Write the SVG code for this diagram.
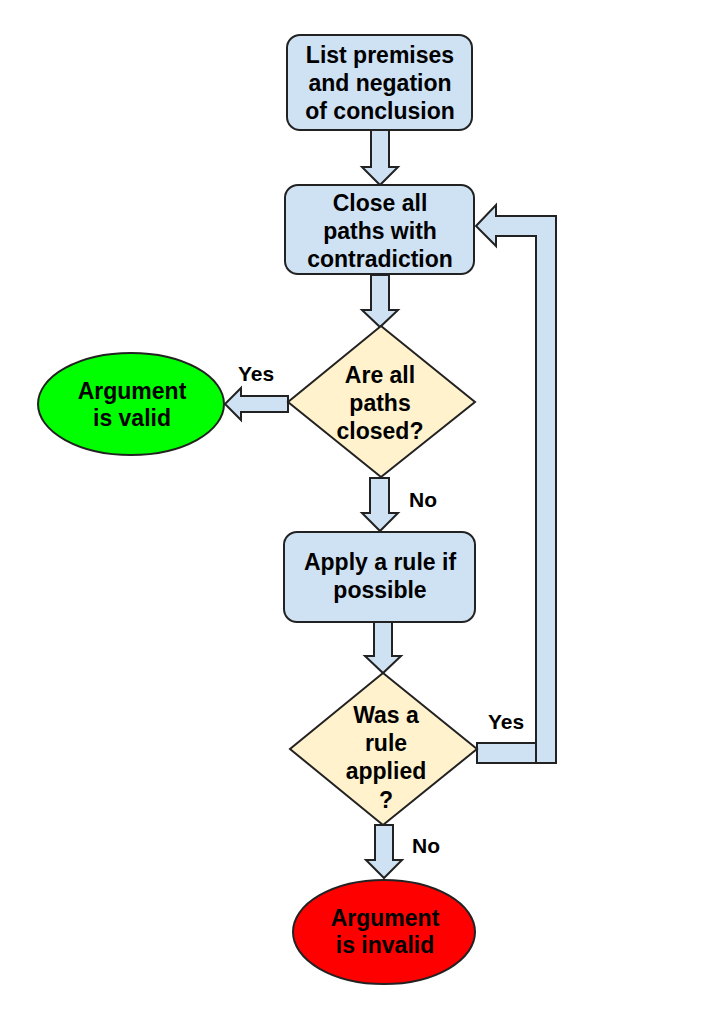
<svg xmlns="http://www.w3.org/2000/svg" width="716" height="1024" viewBox="0 0 716 1024">
<style>
.box{fill:#cfe2f3;stroke:#222;stroke-width:2}
.dia{fill:#fff2cc;stroke:#222;stroke-width:2}
.arr{fill:#cfe2f3;stroke:#222;stroke-width:2;stroke-linejoin:miter}
.t{font-family:"Liberation Sans",Arial,sans-serif;font-weight:bold;font-size:23px;fill:#000;text-anchor:middle}
.lbl{font-family:"Liberation Sans",Arial,sans-serif;font-weight:bold;font-size:21px;fill:#000;text-anchor:middle}
</style>
<rect width="716" height="1024" fill="#fff"/>
<g id="connectors">
<polygon class="arr" points="371,130 389,130 389,167 398,167 380,185 362,167 371,167"/>
<polygon class="arr" points="371,275 389,275 389,310 398,310 380,327 362,310 371,310"/>
<polygon class="arr" points="288,396 241,396 241,388 225,404 241,420 241,412 288,412"/>
<polygon class="arr" points="370,478 389,478 389,513 398,513 380,531 362,513 370,513"/>
<polygon class="arr" points="374,622 392,622 392,656 401,656 383,673 365,656 374,656"/>
<polygon class="arr" points="375,825 393,825 393,860 402,860 384,878 366,860 375,860"/>
<rect class="arr" x="477" y="743" width="59" height="20"/>
<polygon class="arr" points="476,226 496,205 496,216 556,216 556,763 536,763 536,236 496,236 496,246"/>
<text class="lbl" x="256" y="381">Yes</text>
<text class="lbl" x="423" y="507">No</text>
<text class="lbl" x="506" y="729">Yes</text>
<text class="lbl" x="426" y="853">No</text>
</g>
<g id="n1">
<rect class="box" x="287" y="35" width="185" height="95" rx="13"/>
<text class="t" x="380" y="63">List premises</text>
<text class="t" x="380" y="91">and negation</text>
<text class="t" x="380" y="119">of conclusion</text>
</g>
<g id="n2">
<rect class="box" x="285" y="185" width="189" height="89" rx="13"/>
<text class="t" x="380" y="211">Close all</text>
<text class="t" x="380" y="239">paths with</text>
<text class="t" x="380" y="267">contradiction</text>
</g>
<g id="n3">
<polygon class="dia" points="381,326 475,402 381,477 288,402"/>
<text class="t" x="380" y="383">Are all</text>
<text class="t" x="380" y="411">paths</text>
<text class="t" x="380" y="439">closed?</text>
</g>
<g id="n4">
<ellipse cx="131" cy="404" rx="93" ry="51" fill="#00ff00" stroke="#222" stroke-width="2"/>
<text class="t" x="132" y="399">Argument</text>
<text class="t" x="132" y="426">is valid</text>
</g>
<g id="n5">
<rect class="box" x="284" y="532" width="191" height="90" rx="13"/>
<text class="t" x="380" y="570">Apply a rule if</text>
<text class="t" x="380" y="598">possible</text>
</g>
<g id="n6">
<polygon class="dia" points="383,673 477,749 383,825 290,749"/>
<text class="t" x="386" y="723">Was a</text>
<text class="t" x="386" y="751">rule</text>
<text class="t" x="386" y="779">applied</text>
<text class="t" x="386" y="808">?</text>
</g>
<g id="n7">
<ellipse cx="384" cy="932" rx="91" ry="52" fill="#ff0000" stroke="#222" stroke-width="2"/>
<text class="t" x="385" y="926">Argument</text>
<text class="t" x="385" y="953">is invalid</text>
</g>
</svg>
